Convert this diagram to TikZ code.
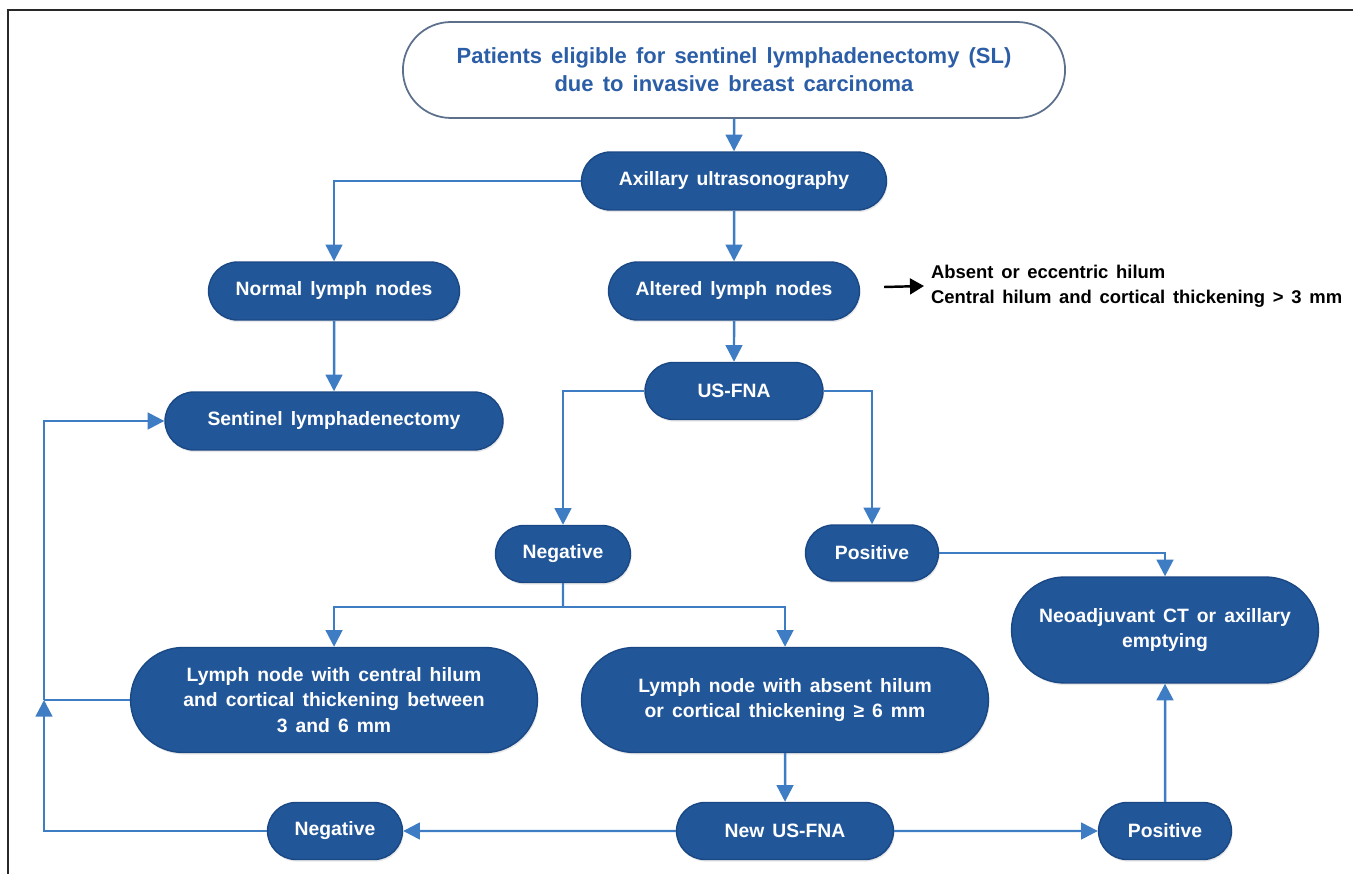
\documentclass[tikz,border=0pt]{standalone}
\usepackage{fontspec}
\setmainfont[WordSpace=1.5]{Liberation Sans}
\usepackage{tikz}
\usetikzlibrary{arrows.meta,positioning,shapes,shadows}
\definecolor{boxblue}{RGB}{33,86,153}
\definecolor{boxedge}{RGB}{26,72,132}
\definecolor{lineblue}{RGB}{62,125,196}
\definecolor{titleblue}{RGB}{43,94,167}
\definecolor{titleedge}{RGB}{92,112,140}
\definecolor{framegray}{RGB}{40,40,40}

\begin{document}
\begin{tikzpicture}[x=0.02cm, y=-0.02cm, line width=1.4pt,
  main node/.style={rounded rectangle,draw=boxedge,line width=0.8pt,fill=boxblue,text=white,
    font=\bfseries\fontsize{11}{14.5}\selectfont,align=center,inner sep=2pt,
    drop shadow={opacity=0.18,shadow xshift=0.6pt,shadow yshift=-1.2pt}},
  start node/.style={rounded rectangle,draw=titleedge,line width=1pt,fill=white,text=titleblue,
    font=\bfseries\fontsize{12.5}{16}\selectfont,align=center},
  flow/.style={draw=lineblue,-{Triangle[width=9.5pt,length=9.5pt]}}]
\useasboundingbox (0,0) rectangle (1353,874);
\draw[framegray,line width=0.9pt] (8,874) -- (8,10) -- (1353,10);
\begin{scope}
\node[start node,minimum width=13.48cm,minimum height=1.92cm] (elig) at (734,70) {Patients eligible for sentinel lymphadenectomy (SL)\\due to invasive breast carcinoma};
\node[main node,minimum width=6.24cm,minimum height=1.16cm] (axus) at (734,181) {Axillary ultrasonography};
\node[main node,minimum width=5.16cm,minimum height=1.16cm] (normal) at (334,291) {Normal lymph nodes};
\node[main node,minimum width=5.16cm,minimum height=1.16cm] (altered) at (734,291) {Altered lymph nodes};
\node[main node,minimum width=6.9cm,minimum height=1.16cm] (sentinel) at (334,421) {Sentinel lymphadenectomy};
\node[main node,minimum width=3.7cm,minimum height=1.14cm] (fna) at (734,391) {US-FNA};
\node[main node,minimum width=2.84cm,minimum height=1.14cm] (neg) at (563,554) {Negative};
\node[main node,minimum width=2.8cm,minimum height=1.12cm] (pos) at (872,553) {Positive};
\node[main node,minimum width=6.28cm,minimum height=2.12cm] (neoadj) at (1165,630) {Neoadjuvant CT or axillary\\emptying};
\node[main node,minimum width=8.28cm,minimum height=2.1cm] (central) at (334,700) {Lymph node with central hilum\\and cortical thickening between\\3 and 6 mm};
\node[main node,minimum width=8.28cm,minimum height=2.1cm] (absent) at (785,700) {Lymph node with absent hilum\\or cortical thickening ≥ 6 mm};
\node[main node,minimum width=2.84cm,minimum height=1.14cm] (negb) at (335,831) {Negative};
\node[main node,minimum width=4.48cm,minimum height=1.14cm] (newfna) at (785,831) {New US-FNA};
\node[main node,minimum width=2.8cm,minimum height=1.14cm] (posb) at (1165,831) {Positive};
\node[anchor=west,align=left,font=\bfseries\fontsize{10.5}{14}\selectfont] (crit) at (924,286) {Absent or eccentric hilum\\Central hilum and cortical thickening > 3 mm};
\end{scope}
\coordinate (split) at (563,607);
\coordinate (lb) at (44,831);
\coordinate (lm) at (44,700);
\coordinate (lt) at (44,421);
\begin{scope}
\draw[flow] (elig) -- (axus);
\draw[flow] (axus.west) -| (normal);
\draw[flow] (axus) -- (altered);
\draw[flow] (normal) -- (sentinel);
\draw[flow] (altered) -- (fna);
\draw[flow] (fna.west) -| (neg);
\draw[flow] (fna.east) -| (pos);
\draw[flow] (pos.east) -| (neoadj);
\draw[draw=lineblue] (neg) -- (split);
\draw[flow] (split) -| (central);
\draw[flow] (split) -| (absent);
\draw[flow] (absent) -- (newfna);
\draw[flow] (newfna) -- (negb);
\draw[flow] (newfna) -- (posb);
\draw[flow] (posb) -- (neoadj);
\draw[flow] (negb.west) -- (lb) -- (lm);
\draw[draw=lineblue] (central.west) -- (lm);
\draw[flow] (lm) -- (lt) -- (sentinel.west);
\draw[-{Triangle[width=9pt,length=8pt]},black] (altered.east)+(24,-4) -- (crit.west);
\end{scope}
\end{tikzpicture}
\end{document}
